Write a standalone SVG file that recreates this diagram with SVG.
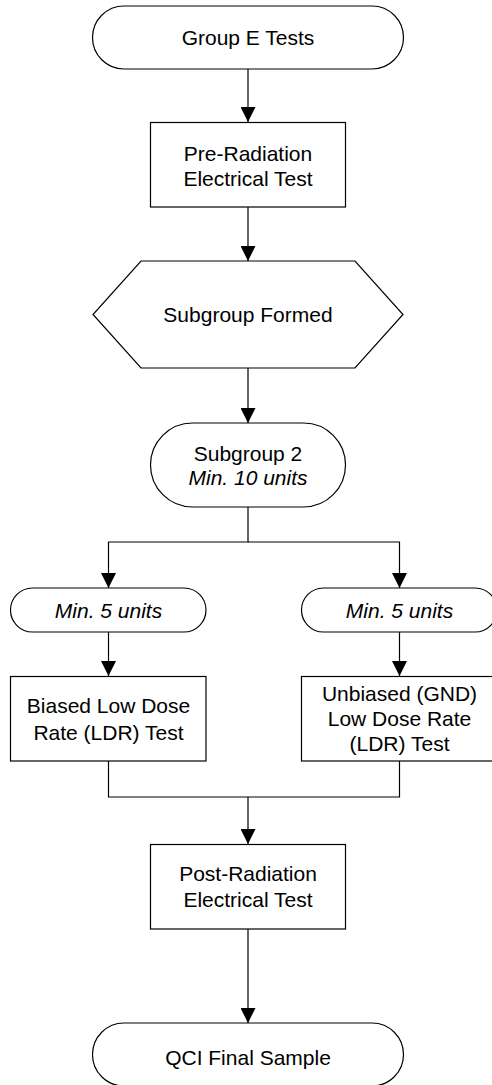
<svg xmlns="http://www.w3.org/2000/svg" width="492" height="1085" viewBox="0 0 492 1085">
<style>
.n{fill:#fff;stroke:#000;stroke-width:1.2}
.t{font-family:"Liberation Sans",Arial,sans-serif;font-size:21px;fill:#000;text-anchor:middle}
.i{font-style:italic}
.c{fill:none;stroke:#000;stroke-width:1.2}
</style>
<defs>
<marker id="ah" markerWidth="15" markerHeight="15" refX="15" refY="7.5" orient="auto" markerUnits="userSpaceOnUse">
<path d="M0,0 L15,7.5 L0,15 Z" fill="#000"/>
</marker>
</defs>
<rect width="492" height="1085" fill="#fff"/>
<g id="connectors">
<path class="c" d="M248,69 V122" marker-end="url(#ah)"/>
<path class="c" d="M248,207 V261" marker-end="url(#ah)"/>
<path class="c" d="M248,368 V423" marker-end="url(#ah)"/>
<path class="c" d="M248,507 V542 H108.5 V588" marker-end="url(#ah)"/>
<path class="c" d="M248,542 H399.5 V588" marker-end="url(#ah)"/>
<path class="c" d="M108.5,632 V676" marker-end="url(#ah)"/>
<path class="c" d="M399.5,632 V676" marker-end="url(#ah)"/>
<path class="c" d="M108.5,761 V797 H399.5 V761"/>
<path class="c" d="M248,797 V844" marker-end="url(#ah)"/>
<path class="c" d="M248,929 V1023" marker-end="url(#ah)"/>
</g>
<g id="start">
<rect class="n" x="92.5" y="6" width="311" height="63" rx="31.5"/>
<text class="t" x="248" y="44.5">Group E Tests</text>
</g>
<g id="preRad">
<rect class="n" x="150.5" y="122.5" width="195" height="84.5"/>
<text class="t" x="248" y="160.5">Pre-Radiation</text>
<text class="t" x="248" y="185.5">Electrical Test</text>
</g>
<g id="subgroupFormed">
<polygon class="n" points="141,261 355,261 403,314.5 355,368 141,368 93,314.5"/>
<text class="t" x="248" y="321.5">Subgroup Formed</text>
</g>
<g id="subgroup2">
<rect class="n" x="150.5" y="423" width="195" height="84" rx="42"/>
<text class="t" x="248" y="460.5">Subgroup 2</text>
<text class="t i" x="248" y="484.5">Min. 10 units</text>
</g>
<g id="minLeft">
<rect class="n" x="10.5" y="588" width="195.5" height="44" rx="22"/>
<text class="t i" x="108.5" y="617.5">Min. 5 units</text>
</g>
<g id="minRight">
<rect class="n" x="301.5" y="588" width="195.5" height="44" rx="22"/>
<text class="t i" x="399.5" y="617.5">Min. 5 units</text>
</g>
<g id="biased">
<rect class="n" x="10.5" y="676.5" width="195.5" height="84.5"/>
<text class="t" x="108.5" y="712.5">Biased Low Dose</text>
<text class="t" x="108.5" y="739.5">Rate (LDR) Test</text>
</g>
<g id="unbiased">
<rect class="n" x="301.5" y="676.5" width="195.5" height="84.5"/>
<text class="t" x="399.5" y="700.5">Unbiased (GND)</text>
<text class="t" x="399.5" y="725.5">Low Dose Rate</text>
<text class="t" x="399.5" y="750.5">(LDR) Test</text>
</g>
<g id="postRad">
<rect class="n" x="150.5" y="844.5" width="195" height="84.5"/>
<text class="t" x="248" y="880.5">Post-Radiation</text>
<text class="t" x="248" y="906.5">Electrical Test</text>
</g>
<g id="end">
<rect class="n" x="92.5" y="1023" width="311" height="63" rx="31.5"/>
<text class="t" x="248" y="1064.5">QCI Final Sample</text>
</g>
</svg>
